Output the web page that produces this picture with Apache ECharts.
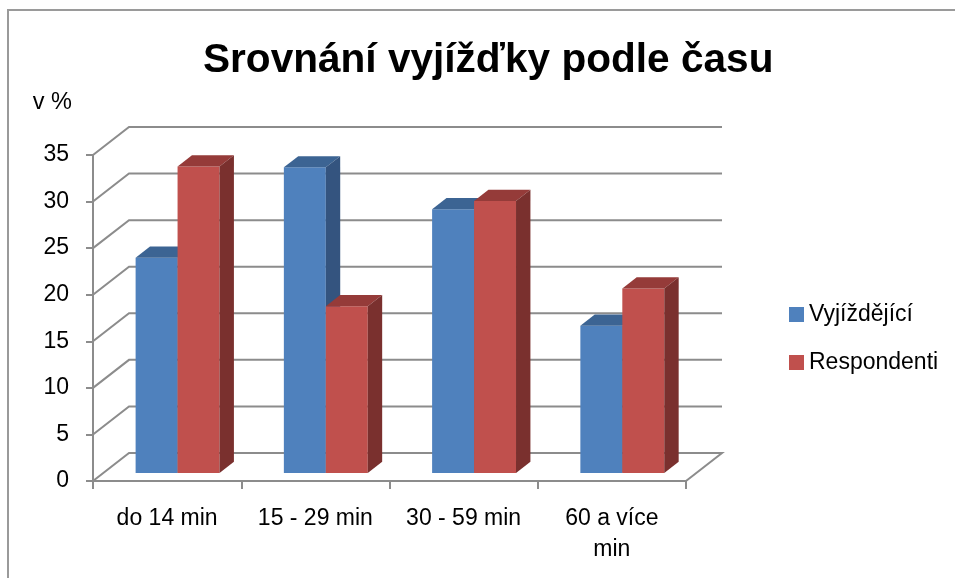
<!DOCTYPE html>
<html><head><meta charset="utf-8">
<script src="https://cdn.jsdelivr.net/npm/echarts@6/dist/echarts.min.js"></script>
<style>html,body{margin:0;padding:0;background:#fff;}#c{width:955px;height:578px;}</style>
</head><body><div id="c"></div>
<script>
// ---- data ----
const categories = ['do 14 min', '15 - 29 min', '30 - 59 min', '60 a více\nmin'];
const seriesNames = ['Vyjíždějící', 'Respondenti'];
const vyjizdejici = [23.1, 32.8, 28.3, 15.8];
const respondenti = [32.9, 17.9, 29.2, 19.8];
const yTicks = [0, 5, 10, 15, 20, 25, 30, 35];
const titleText = 'Srovnání vyjížďky podle času';
const unitText = 'v %';

// ---- styling ----
const FONT = '"Liberation Sans", Arial, sans-serif';
const GRID_COLOR = '#8c8c8c';
const DEPTH_X = 36, DEPTH_Y = -28;      // pixel offset of the back wall
const BAR_F0 = 0.29, BAR_F1 = 0.69;     // depth range occupied by the bars
const BAR_W = 0.283;                    // bar width as fraction of category band
const palettes = [
  { front: '#4F81BD', top: '#3C6493', side: '#34547F' },
  { front: '#C0504D', top: '#953B39', side: '#7A302E' }
];

function barRenderer(idx) {
  const pal = palettes[idx];
  return function (params, api) {
    const i = api.value(0), v = api.value(1);
    const base = api.coord([i, 0]);
    const top = api.coord([i, v]);
    const band = api.size([1, 0])[0];
    const w = band * BAR_W;
    const ox = DEPTH_X * BAR_F0, oy = DEPTH_Y * BAR_F0;
    const dx = DEPTH_X * (BAR_F1 - BAR_F0), dy = DEPTH_Y * (BAR_F1 - BAR_F0);
    const cx = base[0] + ox;
    const x0 = idx === 0 ? cx - w : cx;
    const x1 = x0 + w;
    const yb = base[1] + oy, yt = top[1] + oy;
    return {
      type: 'group',
      children: [
        { type: 'rect', shape: { x: x0, y: yt, width: w, height: yb - yt }, style: { fill: pal.front } },
        { type: 'polygon', shape: { points: [[x0, yt], [x1, yt], [x1 + dx, yt + dy], [x0 + dx, yt + dy]] }, style: { fill: pal.top } },
        { type: 'polygon', shape: { points: [[x1, yb], [x1, yt], [x1 + dx, yt + dy], [x1 + dx, yb + dy]] }, style: { fill: pal.side } }
      ]
    };
  };
}

function wallRenderer(params, api) {
  const v = api.value(1);
  const cs = params.coordSys;
  const y = api.coord([0, v])[1];
  const L = cs.x, R = cs.x + cs.width;
  const pts = [[L, y], [L + DEPTH_X, y + DEPTH_Y], [R + DEPTH_X, y + DEPTH_Y]];
  if (v === 0) pts.push([R, y]);
  return { type: 'polyline', shape: { points: pts }, style: { stroke: GRID_COLOR, lineWidth: 2, fill: null } };
}

const chart = echarts.init(document.getElementById('c'), null, { renderer: 'canvas' });
chart.setOption({
  animation: false,
  backgroundColor: '#fff',
  graphic: [{
    type: 'rect', silent: true, z: -10,
    shape: { x: 8, y: 10, width: 1000, height: 620 },
    style: { fill: 'none', stroke: '#9a9a9a', lineWidth: 2 }
  }],
  title: {
    text: titleText, left: 203, top: 40, padding: 0,
    textStyle: { fontFamily: FONT, fontSize: 40.6, fontWeight: 'bold', color: '#000' }
  },
  legend: {
    orient: 'vertical', left: 784, top: 298, itemWidth: 15, itemHeight: 15, itemGap: 25,
    icon: 'rect', data: seriesNames,
    textStyle: { fontFamily: FONT, fontSize: 23, color: '#000' }
  },
  grid: { left: 93, right: 269, top: 155, bottom: 97, containLabel: false },
  xAxis: {
    type: 'category', data: categories,
    axisLine: { show: true, lineStyle: { color: GRID_COLOR, width: 2 } },
    axisTick: { show: true, length: 8, lineStyle: { color: GRID_COLOR, width: 2 } },
    axisLabel: { interval: 0, margin: 22, fontFamily: FONT, fontSize: 23, lineHeight: 31, color: '#000' },
    splitLine: { show: false }
  },
  yAxis: {
    type: 'value', min: 0, max: 35, interval: 5,
    name: unitText, nameLocation: 'end', nameGap: 40,
    nameTextStyle: { fontFamily: FONT, fontSize: 23.5, color: '#000', align: 'right', verticalAlign: 'bottom', padding: [0, 21, 0, 0] },
    axisLine: { show: true, lineStyle: { color: GRID_COLOR, width: 2 } },
    axisTick: { show: true, length: 7, lineStyle: { color: GRID_COLOR, width: 2 } },
    axisLabel: { margin: 24, fontFamily: FONT, fontSize: 23, color: '#000' },
    splitLine: { show: false }
  },
  series: [
    { type: 'custom', name: 'walls', silent: true, renderItem: wallRenderer, data: yTicks.map(v => [0, v]) },
    { type: 'custom', name: seriesNames[0], itemStyle: { color: palettes[0].front }, renderItem: barRenderer(0), data: vyjizdejici.map((v, i) => [i, v]) },
    { type: 'custom', name: seriesNames[1], itemStyle: { color: palettes[1].front }, renderItem: barRenderer(1), data: respondenti.map((v, i) => [i, v]) }
  ]
});
</script>
</body></html>
